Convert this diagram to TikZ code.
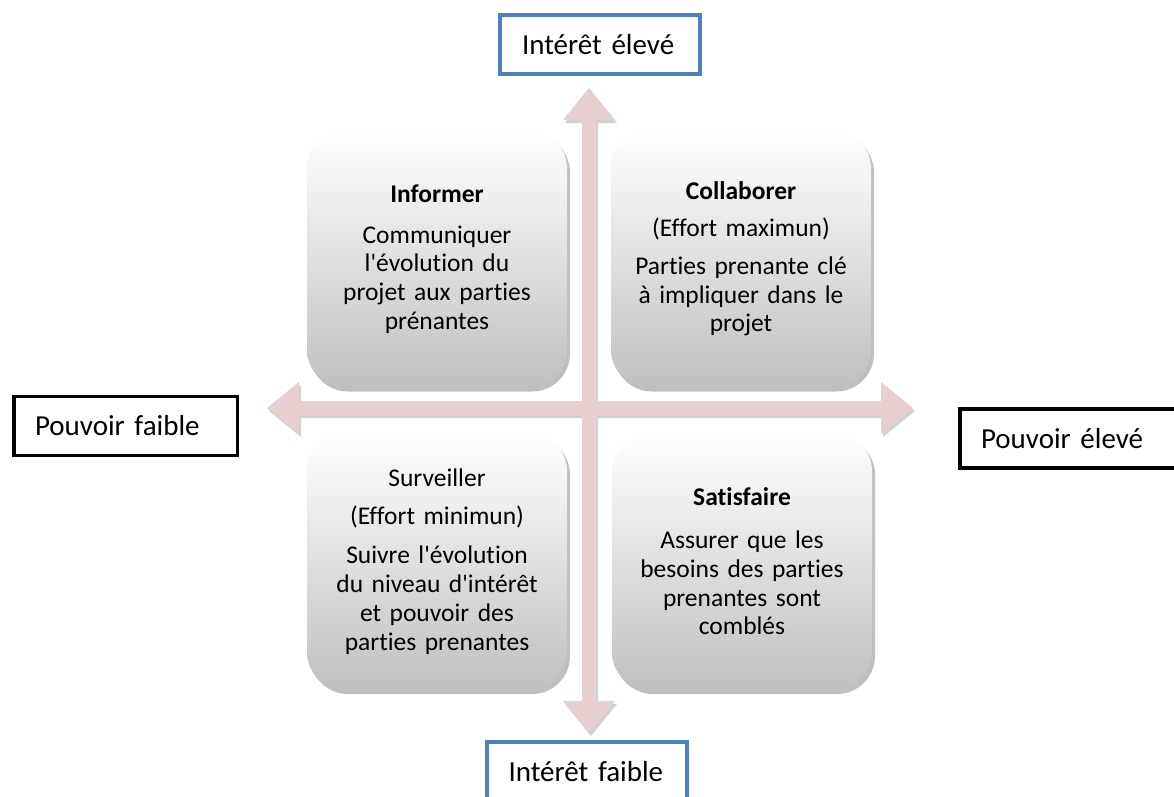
\documentclass[tikz,border=0pt]{standalone}
\usepackage{fontspec}
\setmainfont{Carlito}[Ligatures={TeXOff,CommonOff}]
\usetikzlibrary{shadows}
\definecolor{axispink}{RGB}{231,206,207}
\definecolor{labelblue}{RGB}{79,129,189}
\definecolor{boxgrey}{RGB}{192,192,192}

\begin{document}
\begin{tikzpicture}[x=1pt,y=-1pt,
  quad/.style={rounded corners=38pt, minimum width=260pt, minimum height=257pt,
    top color=white, bottom color=boxgrey,
    drop shadow={shadow xshift=3pt, shadow yshift=-4pt, opacity=0.25, fill=black},
    align=center, text width=250pt, inner sep=0pt,
    font=\fontsize{25.5}{28.8}\selectfont},
  tagbox/.style={draw, line width=3.5pt, inner xsep=21pt, inner ysep=0pt,
    align=left, font=\fontsize{29}{32}\selectfont,
    minimum height=59pt},
  bluetag/.style={tagbox, draw=labelblue, line width=4pt, minimum width=200pt, text width=156pt},
  blacktag/.style={tagbox, draw=black, minimum width=223.5pt, text width=181pt},
  axisarrow/.style={fill=axispink,
    drop shadow={shadow xshift=2pt, shadow yshift=-3pt, opacity=0.18, fill=black}}
]
\clip (0,0) rectangle (1174,796);
\fill[white] (0,0) rectangle (1174,796);

% quadrant boxes
\node[quad] (tl) at (437,259) {\textbf{Informer}\\[12pt]
  Communiquer\\ l'évolution du\\ projet aux parties\\ prénantes};
\node[quad] (tr) at (741,259) {\textbf{Collaborer}\\[8pt]
  (Effort maximun)\\[9pt] Parties prenante clé\\ à impliquer dans le\\ projet};
\node[quad] (bl) at (437,561.5) {Surveiller\\[9pt]
  (Effort minimun)\\[11pt] Suivre l'évolution\\ du niveau d'intérêt\\ et pouvoir des\\ parties prenantes};
\node[quad] (br) at (742,561.5) {\textbf{Satisfaire}\\[14pt]
  Assurer que les\\ besoins des parties\\ prenantes sont\\ comblés};

% the two axes: double-headed arrows crossing at the centre
\path[axisarrow]
  (589,88) -- (615,120) -- (596,120) -- (596,701) -- (615,701) -- (589,733)
  -- (563,701) -- (582,701) -- (582,120) -- (563,120) -- cycle
  (267,408) -- (299,382) -- (299,401) -- (881,401) -- (881,382) -- (913,408)
  -- (881,434) -- (881,415) -- (299,415) -- (299,434) -- cycle;

% axis labels
\node[bluetag] (top) at (600,44.5) {Intérêt élevé};
\node[bluetag] (bottom) at (586.5,771.5) {Intérêt faible};
\node[blacktag] (left) at (125.5,426) {Pouvoir faible};
\node[blacktag] (right) at (1071.5,438.5) {Pouvoir élevé};
\end{tikzpicture}
\end{document}
